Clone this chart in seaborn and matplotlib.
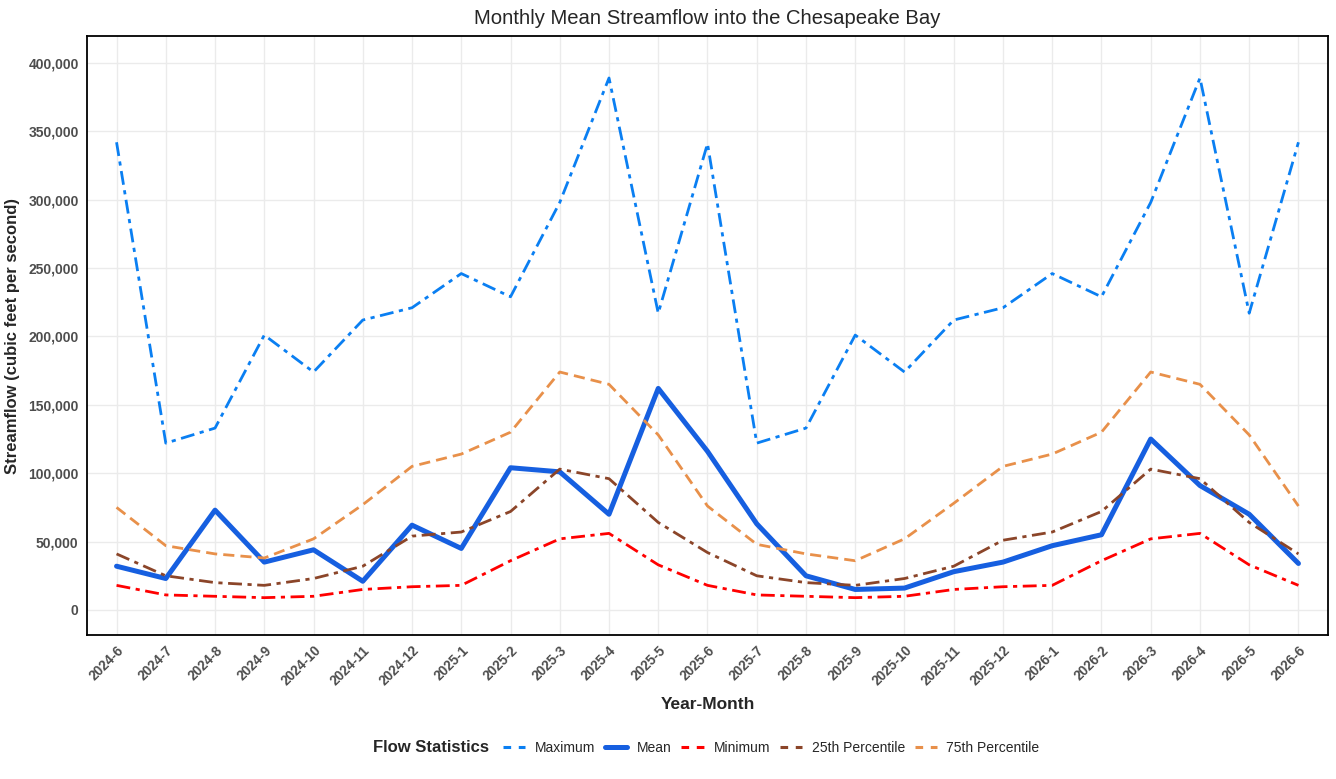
import numpy as np
import pandas as pd
import matplotlib
matplotlib.use("Agg")
import matplotlib.pyplot as plt
import seaborn as sns
from matplotlib.ticker import FuncFormatter
from matplotlib.lines import Line2D

months = ["2024-6", "2024-7", "2024-8", "2024-9", "2024-10", "2024-11", "2024-12",
          "2025-1", "2025-2", "2025-3", "2025-4", "2025-5", "2025-6", "2025-7",
          "2025-8", "2025-9", "2025-10", "2025-11", "2025-12", "2026-1", "2026-2",
          "2026-3", "2026-4", "2026-5", "2026-6"]

maximum = [342000, 122000, 133000, 201000, 174000, 212000, 221000, 246000, 229000,
           298000, 389000, 217000, 341000, 122000, 133000, 201000, 174000, 212000,
           221000, 246000, 229000, 298000, 389000, 217000, 342000]
mean = [32000, 23000, 73000, 35000, 44000, 21000, 62000, 45000, 104000, 101000,
        70000, 162000, 116000, 63000, 25000, 15000, 16000, 28000, 35000, 47000,
        55000, 125000, 91000, 70000, 34000]
minimum = [18000, 11000, 10000, 9000, 10000, 15000, 17000, 18000, 36000, 52000,
           56000, 33000, 18000, 11000, 10000, 9000, 10000, 15000, 17000, 18000,
           36000, 52000, 56000, 33000, 18000]
p25 = [41000, 25000, 20000, 18000, 23000, 32000, 54000, 57000, 72000, 103000,
       96000, 64000, 42000, 25000, 20000, 18000, 23000, 32000, 51000, 57000,
       72000, 103000, 96000, 64000, 41000]
p75 = [75000, 47000, 41000, 38000, 52000, 77000, 105000, 114000, 130000, 174000,
       165000, 128000, 76000, 48000, 41000, 36000, 52000, 78000, 105000, 114000,
       130000, 174000, 165000, 128000, 76000]

stats = ["Maximum", "Mean", "Minimum", "25th Percentile", "75th Percentile"]
series = [maximum, mean, minimum, p25, p75]
colors = {"Maximum": "#0A7FF2", "Mean": "#165FE0", "Minimum": "#FF0000",
          "25th Percentile": "#8B4529", "75th Percentile": "#E8904A"}
dashes = {"Maximum": (5, 2, 1.5, 2), "Mean": "", "Minimum": (5, 2, 1.5, 2),
          "25th Percentile": (5, 2, 1.5, 2), "75th Percentile": (4, 2.2)}
widths = {"Maximum": 2.0, "Mean": 3.6, "Minimum": 2.0,
          "25th Percentile": 2.0, "75th Percentile": 2.0}

rows = []
for s, vals in zip(stats, series):
    for i, (m, v) in enumerate(zip(months, vals)):
        rows.append({"pos": i, "month": m, "stat": s, "value": v})
df = pd.DataFrame(rows)

sns.set_theme(style="whitegrid")
plt.rcParams["font.family"] = ["Liberation Sans", "DejaVu Sans"]

fig = plt.figure(figsize=(13.36, 7.79), dpi=100)
ax = fig.add_axes([87 / 1336, 1 - 635 / 779, (1328 - 87) / 1336, (635 - 36) / 779])

sns.lineplot(data=df, x="pos", y="value", hue="stat", style="stat", size="stat",
             hue_order=stats, style_order=stats, size_order=stats,
             palette=colors, dashes=dashes, sizes=widths, ax=ax, legend=False)

ax.set_xlim(-0.6, len(months) - 1 + 0.6)
ax.set_ylim(-18300, 419700)
ax.set_xticks(range(len(months)))
ax.set_xticklabels(months, rotation=45, ha="right", rotation_mode="anchor",
                   fontsize=9.8, fontweight="bold", color="#4D4D4D")
ax.set_yticks(np.arange(0, 400001, 50000))
ax.yaxis.set_major_formatter(FuncFormatter(lambda v, p: f"{int(v):,}"))
for lab in ax.get_yticklabels():
    lab.set_fontsize(10)
    lab.set_fontweight("bold")
    lab.set_color("#4D4D4D")
ax.tick_params(axis="x", pad=3, length=3, color="#333333")
ax.tick_params(axis="y", pad=3, length=3, color="#333333")
ax.grid(True, color="#EBEBEB", linewidth=1.0)
for sp in ax.spines.values():
    sp.set_edgecolor("black")
    sp.set_linewidth(1.3)

ax.set_xlabel("Year-Month", fontsize=12.5, fontweight="bold", labelpad=6)
ax.set_ylabel("Streamflow (cubic feet per second)", fontsize=12, fontweight="bold", labelpad=6)
ax.set_title("Monthly Mean Streamflow into the Chesapeake Bay", fontsize=14.6, pad=9)

handles = []
for s in stats:
    ln = Line2D([0], [0], color=colors[s], lw=widths[s] * (1.0 if s == "Mean" else 1.1))
    if dashes[s]:
        ln.set_dashes((2.5, 2.5))
    handles.append(ln)

fig.text(373 / 1336, 1 - 748 / 779, "Flow Statistics", fontsize=12, fontweight="bold",
         va="center", ha="left")
leg = fig.legend(handles, stats, loc="center left", bbox_to_anchor=(503 / 1336, 1 - 748 / 779),
                 ncol=5, frameon=False, fontsize=10, handlelength=1.6, handletextpad=0.7,
                 columnspacing=0.7, borderaxespad=0, borderpad=0)

fig.savefig("out.png", dpi=100)
